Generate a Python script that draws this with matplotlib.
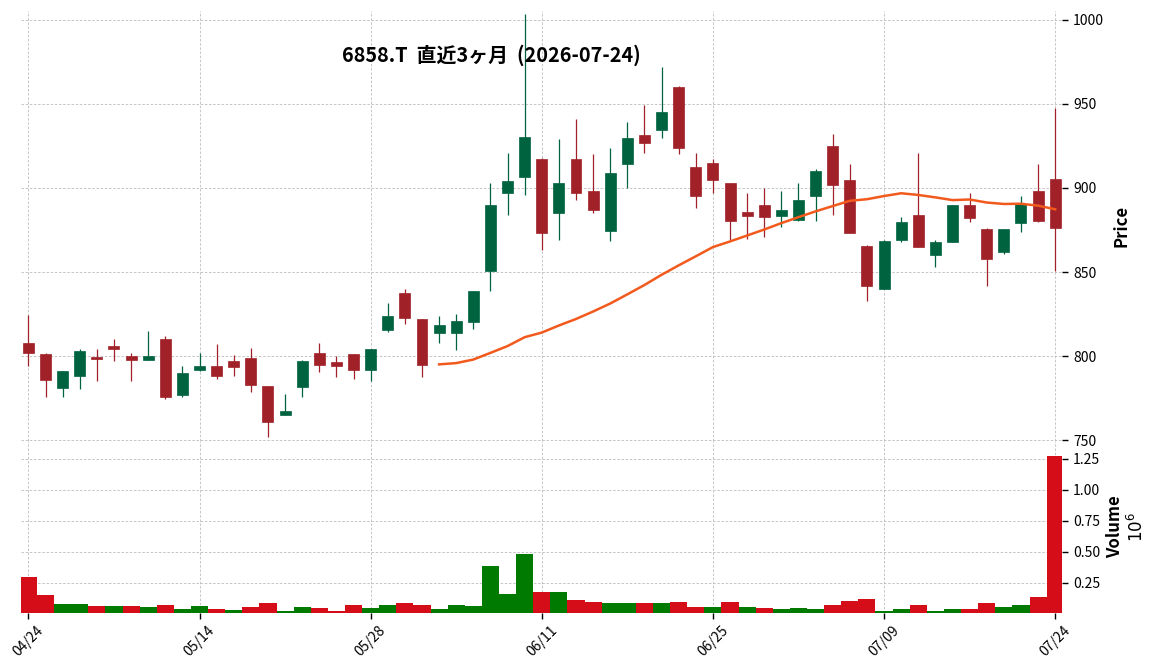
import matplotlib
matplotlib.use("Agg")
import matplotlib.pyplot as plt
import numpy as np
import pandas as pd
from matplotlib.ticker import FixedLocator, FuncFormatter

plt.rcParams["font.family"] = ["Noto Sans CJK JP", "DejaVu Sans"]

TITLE = "6858.T  直近3ヶ月  (2026-07-24)"

DATES = [
    "04/24", "04/27", "04/28", "04/30", "05/01", "05/07", "05/08", "05/11", "05/12", "05/13",
    "05/14", "05/15", "05/18", "05/19", "05/20", "05/21", "05/22", "05/25", "05/26", "05/27",
    "05/28", "05/29", "06/01", "06/02", "06/03", "06/04", "06/05", "06/08", "06/09", "06/10",
    "06/11", "06/12", "06/15", "06/16", "06/17", "06/18", "06/19", "06/22", "06/23", "06/24",
    "06/25", "06/26", "06/29", "06/30", "07/01", "07/02", "07/03", "07/06", "07/07", "07/08",
    "07/09", "07/10", "07/13", "07/14", "07/15", "07/16", "07/17", "07/21", "07/22", "07/23",
    "07/24",
]
OPENS = [
    808, 801.5, 781, 788, 799.5, 806, 800, 798, 810, 777,
    792, 794, 797, 799, 782.5, 765, 782, 802, 796.5, 801.5,
    792, 815.5, 837.5, 822, 814, 814, 820.5, 850.5, 897, 906.5,
    917, 885, 917, 898, 874.5, 914.5, 931.5, 934.5, 960, 912.5,
    915, 903, 885.5, 890, 883.5, 881, 895, 925, 905, 865.5,
    840, 869, 884, 860, 868, 890, 875.5, 862, 879, 898.5,
    905.5,
]
HIGHS = [
    824.5, 802, 791, 804.5, 804.5, 810, 802, 815, 812, 794,
    802, 807.5, 801, 805, 782.5, 777.5, 797.5, 808, 800, 801.5,
    804.5, 831.5, 840, 822, 824, 825, 839, 903, 921, 1003.5,
    918, 929, 941, 920, 924, 939, 949.5, 972, 960.5, 921,
    917, 903, 897, 900, 898.5, 903, 911.5, 932, 914.5, 866,
    869, 883, 920.5, 869, 890, 897, 876.5, 875.5, 895.5, 914.5,
    947.5,
]
LOWS = [
    794, 776, 776, 780.5, 785, 797, 785, 798, 774.5, 776,
    791, 786.5, 788.5, 779, 752, 765, 776, 790.5, 787.5, 786.5,
    785, 814.5, 819, 787.5, 808, 804, 816, 839, 884, 896,
    863, 869, 893, 885, 868.5, 900, 921, 930, 920, 888,
    897, 869, 869.5, 871, 877, 880.5, 880.5, 884, 873, 833,
    840, 868, 865, 853, 868, 879.5, 841.5, 860.5, 874, 880,
    850.5,
]
CLOSES = [
    802, 786, 791, 803, 798.5, 804.5, 798, 800, 776, 790,
    794, 788, 793.5, 783, 761, 767.5, 797, 795, 794, 792,
    804.5, 824, 823, 795, 818.5, 821, 839, 890, 904, 930.5,
    873, 903, 897, 887, 909, 930, 927, 945, 923.5, 895.5,
    904.5, 880.5, 883.5, 883, 887, 893, 910, 902, 873, 842,
    868.5, 880, 865, 868, 890, 882, 858, 875.5, 890.5, 880.5,
    876,
]
VOLUMES = [
    300000, 149000, 77000, 77000, 61000, 61000, 61000, 53000, 69000, 37000,
    61000, 37000, 29000, 53000, 85000, 22000, 53000, 45000, 24000, 69000,
    45000, 69000, 85000, 69000, 37000, 69000, 61000, 389000, 157000, 485000,
    173000, 173000, 109000, 93000, 85000, 85000, 85000, 85000, 93000, 53000,
    53000, 93000, 53000, 45000, 37000, 45000, 37000, 69000, 101000, 117000,
    22000, 37000, 69000, 25000, 37000, 37000, 85000, 53000, 69000, 133000,
    1271000,
]
MAV = 25

UP, DOWN = "#006340", "#a02128"
VUP, VDOWN = "#007a00", "#d50d18"
MA_COLOR = "#f25a1d"
GRID = dict(color="#bdbdbd", linestyle=(0, (3, 2)), linewidth=0.6)

o = np.array(OPENS)
h = np.array(HIGHS)
l = np.array(LOWS)
c = np.array(CLOSES)
v = np.array(VOLUMES)
x = np.arange(len(DATES))

fig = plt.figure(figsize=(11.56, 6.70), dpi=100)
ax = fig.add_axes([0.0179, 0.3425, 0.9008, 0.6411])
axv = fig.add_axes([0.0179, 0.0851, 0.9008, 0.2574], sharex=ax)

# candles
colors = np.where(c >= o, UP, DOWN)
ax.vlines(x, l, h, colors=colors, linewidth=0.9, zorder=2)
ax.bar(x, np.abs(c - o), bottom=np.minimum(o, c), width=0.64,
       color=colors, edgecolor=colors, linewidth=0.5, zorder=3)

ma = pd.Series(c).rolling(MAV).mean()
ax.plot(x, ma, color=MA_COLOR, linewidth=1.8, zorder=4)

# volume colored by change vs previous close
prev = np.concatenate([[o[0]], c[:-1]])
vcolors = np.where(c >= prev, VUP, VDOWN)
axv.bar(x, v, width=1.0, color=vcolors, linewidth=0, zorder=3)

ax.set_xlim(-0.45, 60.4)
ax.set_ylim(749.9, 1005.2)
axv.set_ylim(0.3 * v.min(), 1.1 * v.max())

for a in (ax, axv):
    for s in a.spines.values():
        s.set_visible(False)
    a.yaxis.tick_right()
    a.yaxis.set_label_position("right")
    a.grid(True, **GRID)
    a.set_axisbelow(True)
    a.tick_params(axis="y", length=4, width=1, labelsize=10, pad=4)

ax.yaxis.set_major_locator(FixedLocator([750, 800, 850, 900, 950, 1000]))
ax.tick_params(axis="x", length=0, labelbottom=False)

axv.yaxis.set_major_locator(FixedLocator([250000, 500000, 750000, 1000000, 1250000]))
axv.yaxis.set_major_formatter(FuncFormatter(lambda val, pos: f"{val / 1e6:.2f}"))
axv.set_xticks(x[::10])
axv.set_xticklabels(DATES[::10], rotation=45, ha="center", fontsize=10)
axv.tick_params(axis="x", length=4, width=1)

ax.set_ylabel("Price", fontsize=12, fontweight="bold", labelpad=6)
axv.set_ylabel("Volume\n$10^{6}$", fontsize=12, fontweight="bold", labelpad=4)

fig.text(491 / 1156, 1 - 55 / 670, TITLE, ha="center", va="center",
         fontsize=14.3, fontweight="bold")

fig.savefig("out.png", dpi=100)
